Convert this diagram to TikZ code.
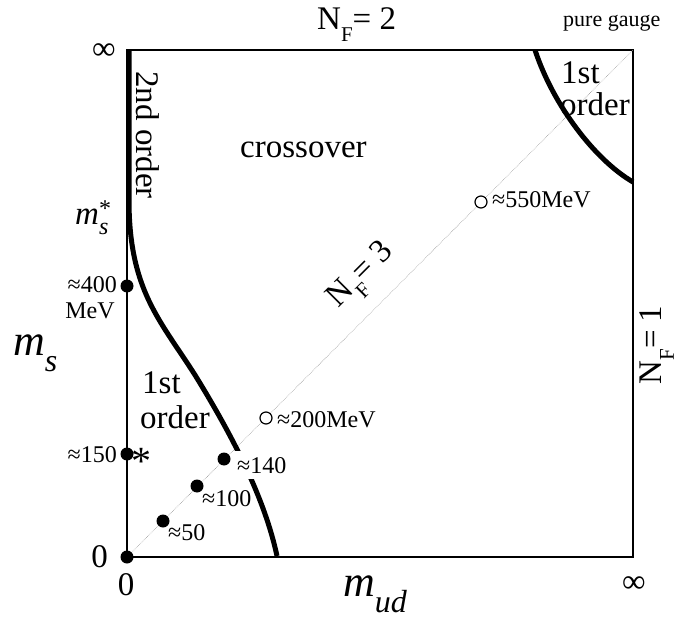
\documentclass[tikz,border=0pt]{standalone}
\usepackage{fontspec}
\setmainfont{Liberation Serif}
\usetikzlibrary{positioning}

\tikzset{
  axisbox/.style={line width=1.3pt},
  diagline/.style={gray!80,line width=0.6pt,densely dotted},
  transline/.style={line width=5pt},
  fulldot/.style={circle,fill=black,inner sep=0pt,minimum size=13pt},
  opendot/.style={circle,draw=black,fill=white,line width=1.2pt,inner sep=0pt,minimum size=12pt},
  bigtxt/.style={font=\fontsize{33}{36}\selectfont,inner sep=0pt},
  smalltxt/.style={font=\fontsize{24}{26}\selectfont,inner sep=0pt},
  hugetxt/.style={font=\fontsize{44}{48}\selectfont\itshape,inner sep=0pt},
}
\newcommand{\nflav}[1]{N\raisebox{-0.36em}{\fontsize{21}{21}\selectfont F}= #1}

\begin{document}
\begin{tikzpicture}[x=1pt,y=-1pt]
\useasboundingbox (0,0) rectangle (677,620);
% frame and the N_F=3 diagonal
\coordinate (O) at (127,557);
\coordinate (TR) at (633,50);
\draw[axisbox] (O) rectangle (TR);
\draw[diagline] (O) -- (TR);
% transition lines
\draw[transline] (129,50) -- (129,200) .. controls (129,290) and (160,320) .. (195,375)
  .. controls (235,440) and (265,500) .. (277,556);
\draw[transline] (535,50) .. controls (553,105) and (595,160) .. (633,182);
% points
\node[fulldot] (p0) at (O) {};
\node[fulldot] (p150) at (127,454) {};
\node[fulldot] (p400) at (127,286) {};
\foreach \name/\x/\y in {p50/163/521, p100/197/486, p140/224/459}
  \node[fulldot] (\name) at (\x,\y) {};
\node[opendot] (q200) at (266,418) {};
\node[opendot] (q550) at (481,202) {};
% small labels
\node[smalltxt,anchor=base west] (l50) at (168,540) {≈50};
\node[smalltxt,anchor=base west] (l100) at (202,506) {≈100};
\node[smalltxt,anchor=base west,fill=white,inner xsep=2pt,inner ysep=6pt] (l140) at (235,473) {≈140};
\node[smalltxt,anchor=base east] (l150) at (117,462) {≈150};
\node[font=\fontsize{40}{40}\selectfont,inner sep=0pt] (star) at (141,461) {*};
\node[smalltxt,anchor=base east] (l400) at (117,292) {≈400};
\node[smalltxt,anchor=base] (lmev) at (90,318) {MeV};
\node[smalltxt,anchor=base west] (l200) at (277,427) {≈200MeV};
\node[smalltxt,anchor=base west] (l550) at (492,208) {≈550MeV};
\node[smalltxt,font=\fontsize{22}{24}\selectfont,anchor=base west] (pure) at (563,27) {pure gauge};
% axis ends
\node[bigtxt,anchor=base east] (zs) at (108,567) {0};
\node[bigtxt,anchor=base] (zu) at (126,595) {0};
\node[bigtxt] (infs) at (104,52) {∞};
\node[bigtxt] (infu) at (634,585) {∞};
% regions
\node[bigtxt,anchor=base west] (cross) at (240,158) {crossover};
\node[bigtxt,rotate=-90] (second) at (148,135) {2nd order};
\node[bigtxt,anchor=base west] (first1) at (142,393) {1st};
\node[bigtxt,anchor=base west] (first2) at (140,428) {order};
\node[bigtxt,anchor=base west] (pg1) at (561,84) {1st};
\node[bigtxt,anchor=base west] (pg2) at (560,116) {order};
% flavour numbers
\node[bigtxt,anchor=base west] (nf2) at (317,30) {\nflav{2}};
\node[bigtxt,rotate=45] (nf3) at (363,277) {\nflav{3}};
\node[bigtxt,rotate=90] (nf1) at (657,345) {\nflav{1}};
% axis titles
\node[bigtxt,anchor=base west,font=\fontsize{33}{36}\selectfont\itshape] (mstar) at (75,225)
  {m\rlap{\raisebox{-0.3em}{\fontsize{24}{24}\selectfont s}}\raisebox{8pt}{\fontsize{24}{24}\selectfont\upshape *}};
\node[hugetxt,anchor=base west] (msl) at (13,355) {m\raisebox{-0.38em}{\fontsize{32}{32}\selectfont s}};
\node[hugetxt,anchor=base west] (mud) at (343,596) {m\raisebox{-0.38em}{\fontsize{32}{32}\selectfont ud}};
\end{tikzpicture}
\end{document}
